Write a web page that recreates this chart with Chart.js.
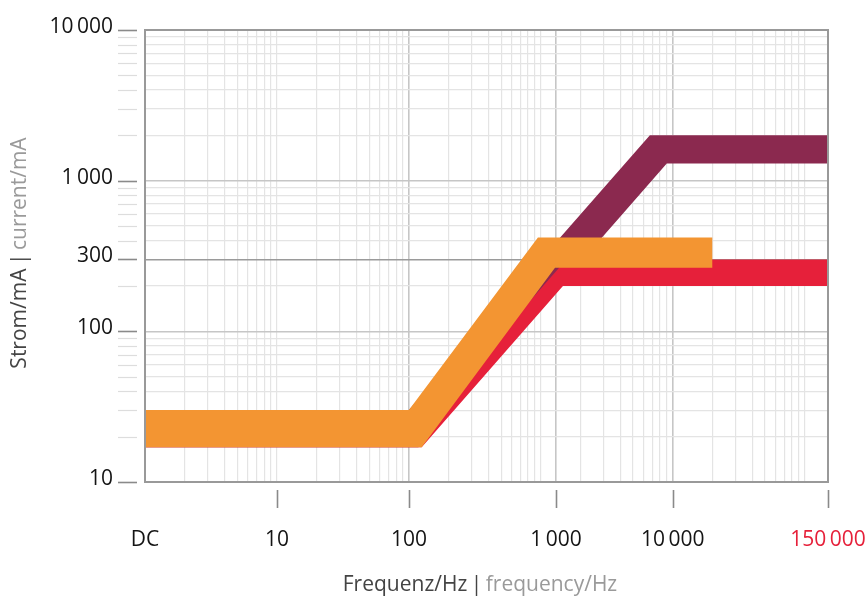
<!DOCTYPE html>
<html>
<head>
<meta charset="utf-8">
<script src="https://cdn.jsdelivr.net/npm/chart.js@4"></script>
<style>
    html, body { margin: 0; padding: 0; background: #fff; }
    #wrap { width: 867px; height: 597px; position: relative; }
</style>
</head>
<body>
<div id="wrap"><canvas id="myChart"></canvas></div>
<script>
// band edges, frequency in Hz / current in mA
var orangeTopX = [1, 100, 950, 20000];
var orangeTopY = [30, 30, 420, 420];
var orangeBotX = [1, 125, 1280, 20000];
var orangeBotY = [17, 17, 264, 264];

var redTopX = [1, 156, 1560, 150000];
var redTopY = [30, 30, 300, 300];
var redBotX = [1, 125, 1470, 150000];
var redBotY = [17, 17, 200, 200];

var maroonTopX = [1, 100, 6700, 150000];
var maroonTopY = [30, 30, 2000, 2000];
var maroonBotX = [1, 118, 9000, 150000];
var maroonBotY = [17, 17, 1300, 1300];

// axis labels
var xTickValues = [1, 10, 100, 1300, 10000, 150000];
var xTickLabels = ['DC', '10', '100', '1\u2009000', '10\u2009000', '150\u2009000'];
var yTickValues = [10, 100, 300, 1000, 10000];
var yTickLabels = ['10', '100', '300', '1\u2009000', '10\u2009000'];

var xMajorGrid = [100, 1300, 10000];
var yMajorGrid = [100, 1000];
var yStrongGrid = [300];

// log grid lines 1..9 per decade
function logGrid(min, max, extra) {
    var out = [];
    for (var e = -1; e <= 6; e++) {
        for (var d = 1; d <= 9; d++) {
            var v = Math.round(d * Math.pow(10, e) * 10) / 10;
            if (v >= min && v <= max) out.push(v);
        }
    }
    extra.forEach(function (v) { if (out.indexOf(v) < 0) out.push(v); });
    return out.sort(function (a, b) { return a - b; });
}
var gridX = logGrid(1, 150000, [1300, 150000]);
var gridY = logGrid(10, 10000, []);

function pts(xs, ys) {
    return xs.map(function (x, i) { return { x: x, y: ys[i] }; });
}

function band(topX, topY, botX, botY, color) {
    return [{
        data: pts(topX, topY),
        backgroundColor: color,
        borderColor: 'rgba(0,0,0,0)',
        fill: '+1'
    }, {
        data: pts(botX, botY),
        borderColor: 'rgba(0,0,0,0)',
        fill: false
    }];
}

var datasets = []
    .concat(band(orangeTopX, orangeTopY, orangeBotX, orangeBotY, '#f39532'))
    .concat(band(redTopX, redTopY, redBotX, redBotY, '#e6203a'))
    .concat(band(maroonTopX, maroonTopY, maroonBotX, maroonBotY, '#8b294f'));

var FONT = '"Open Sans", "Noto Sans", sans-serif';

const decorations = {
    id: 'decorations',
    afterDraw: function (chart) {
        var ctx = chart.ctx;
        var area = chart.chartArea;
        var xs = chart.scales.x, ys = chart.scales.y;
        ctx.save();

        // frame
        ctx.strokeStyle = '#999999';
        ctx.lineWidth = 2;
        ctx.strokeRect(area.left, area.top, area.right - area.left, area.bottom - area.top);

        // y tick marks
        gridY.forEach(function (v) {
            var y = Math.round(ys.getPixelForValue(v)) + 0.5;
            var major = yTickValues.indexOf(v) >= 0;
            ctx.strokeStyle = major ? '#8a8a8a' : '#dddddd';
            ctx.lineWidth = major ? 1.6 : 1.2;
            ctx.beginPath();
            ctx.moveTo(area.left - 27, y);
            ctx.lineTo(area.left - 8, y);
            ctx.stroke();
        });

        // x tick marks
        xTickValues.forEach(function (v) {
            if (v === 1) return;
            var x = Math.round(xs.getPixelForValue(v)) + 0.5;
            ctx.strokeStyle = '#8a8a8a';
            ctx.lineWidth = 1.6;
            ctx.beginPath();
            ctx.moveTo(x, area.bottom + 8);
            ctx.lineTo(x, area.bottom + 26);
            ctx.stroke();
        });

        // tick labels
        ctx.font = '21px ' + FONT;
        ctx.textBaseline = 'middle';
        ctx.textAlign = 'right';
        ctx.fillStyle = '#141414';
        yTickValues.forEach(function (v, i) {
            ctx.fillText(yTickLabels[i], area.left - 32, ys.getPixelForValue(v) - 3);
        });
        ctx.textAlign = 'center';
        xTickValues.forEach(function (v, i) {
            ctx.fillStyle = v === 150000 ? '#e6203a' : '#141414';
            ctx.fillText(xTickLabels[i], xs.getPixelForValue(v), 540);
        });

        // axis titles, two colours each
        ctx.font = '21px ' + FONT;
        var a = 'Frequenz/Hz\u2009|\u2009', b = 'frequency/Hz';
        var wa = ctx.measureText(a).width, wb = ctx.measureText(b).width;
        var x0 = 480 - (wa + wb) / 2;
        ctx.textAlign = 'left';
        ctx.fillStyle = '#444444';
        ctx.fillText(a, x0, 585);
        ctx.fillStyle = '#9a9a9a';
        ctx.fillText(b, x0 + wa, 585);

        var c = 'Strom/mA\u2009|\u2009', d = 'current/mA';
        var wc = ctx.measureText(c).width, wd = ctx.measureText(d).width;
        ctx.translate(20, 253);
        ctx.rotate(-Math.PI / 2);
        var y0 = -(wc + wd) / 2;
        ctx.fillStyle = '#444444';
        ctx.fillText(c, y0, 0);
        ctx.fillStyle = '#9a9a9a';
        ctx.fillText(d, y0 + wc, 0);

        ctx.restore();
    }
};

function gridColor(ctx, axis) {
    var v = ctx.tick ? ctx.tick.value : null;
    if (axis === 'y' && yStrongGrid.indexOf(v) >= 0) return '#9a9a9a';
    if ((axis === 'x' ? xMajorGrid : yMajorGrid).indexOf(v) >= 0) return '#c6c6c6';
    return '#e4e4e4';
}
function gridWidth(ctx, axis) {
    var v = ctx.tick ? ctx.tick.value : null;
    if (axis === 'y' && yStrongGrid.indexOf(v) >= 0) return 1.4;
    if ((axis === 'x' ? xMajorGrid : yMajorGrid).indexOf(v) >= 0) return 1.6;
    return 1.2;
}

const config = {
    type: 'line',
    data: { datasets: datasets },
    options: {
        responsive: true, maintainAspectRatio: false,
        animation: false,
        layout: { padding: { left: 145, right: 39, top: 30, bottom: 115 } },
        elements: { point: { radius: 0 }, line: { tension: 0, borderWidth: 1 } },
        plugins: {
            legend: { display: false },
            tooltip: { enabled: false }
        },
        scales: {
            x: {
                type: 'logarithmic', min: 1, max: 150000,
                ticks: { display: false },
                border: { display: false },
                afterBuildTicks: function (scale) {
                    scale.ticks = gridX.map(function (v) { return { value: v }; });
                },
                grid: {
                    drawTicks: false,
                    color: function (ctx) { return gridColor(ctx, 'x'); },
                    lineWidth: function (ctx) { return gridWidth(ctx, 'x'); }
                }
            },
            y: {
                type: 'logarithmic', min: 10, max: 10000,
                ticks: { display: false },
                border: { display: false },
                afterBuildTicks: function (scale) {
                    scale.ticks = gridY.map(function (v) { return { value: v }; });
                },
                grid: {
                    drawTicks: false,
                    color: function (ctx) { return gridColor(ctx, 'y'); },
                    lineWidth: function (ctx) { return gridWidth(ctx, 'y'); }
                }
            }
        }
    },
    plugins: [decorations]
};

var myChart = new Chart(document.getElementById('myChart'), config);
</script>
</body>
</html>
